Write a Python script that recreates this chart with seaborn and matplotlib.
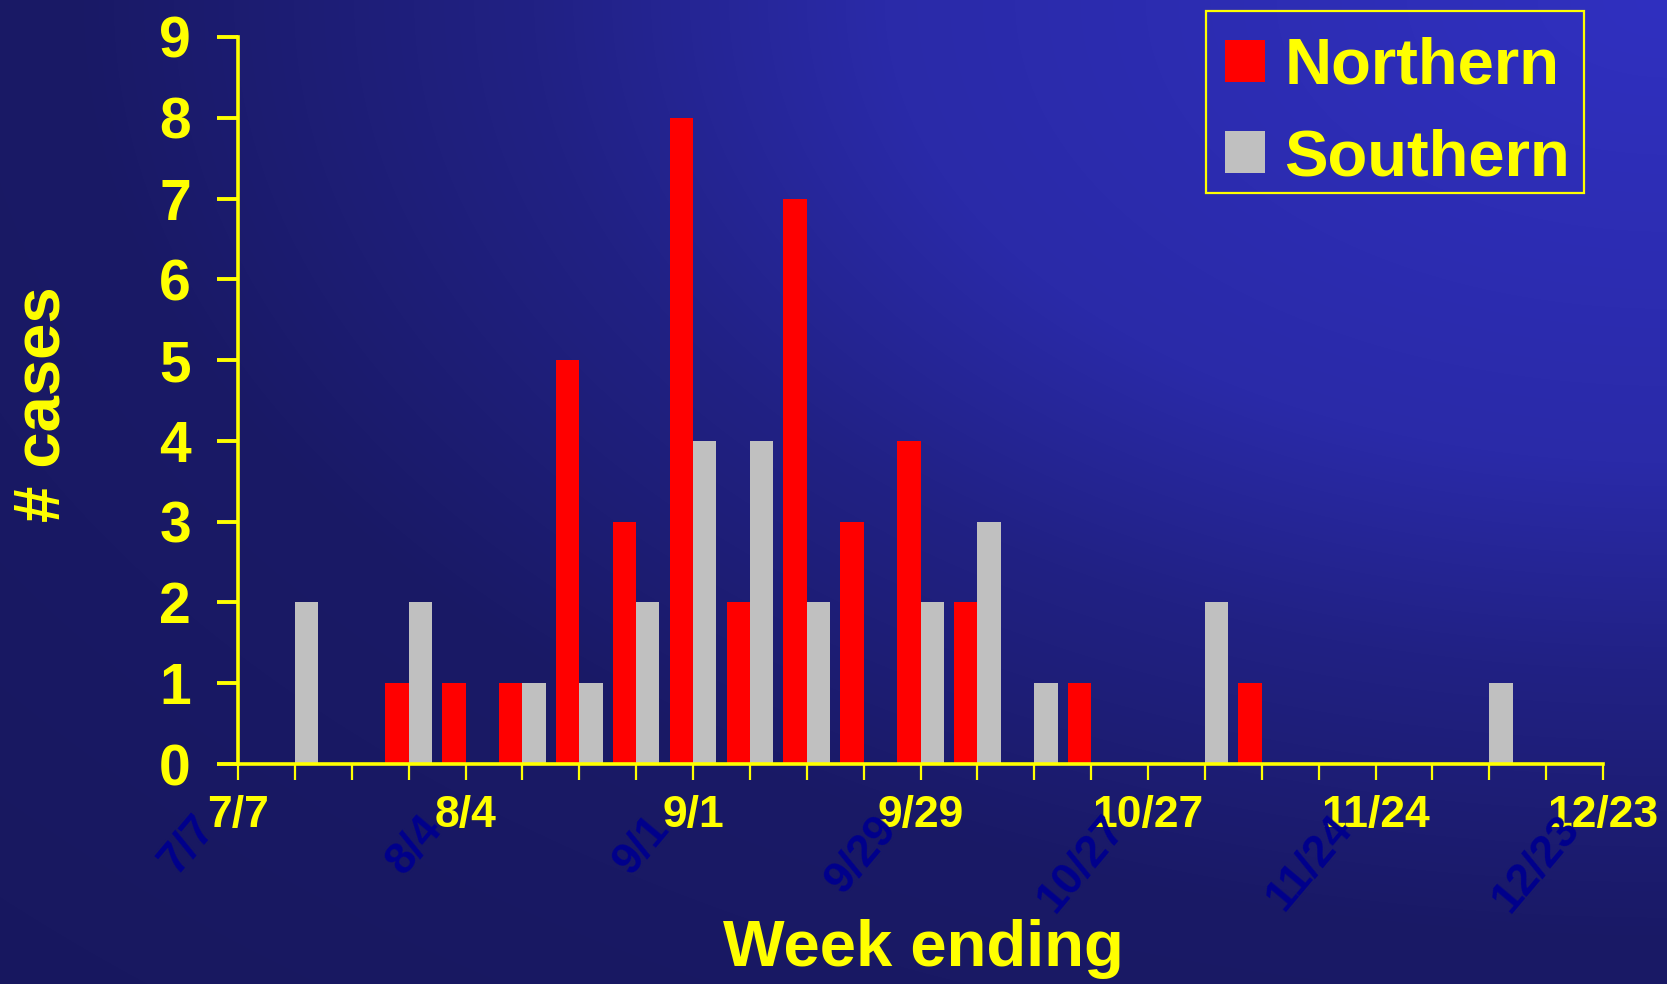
import numpy as np
import pandas as pd
import matplotlib
matplotlib.use("Agg")
import matplotlib.pyplot as plt
import matplotlib.patches as mpatches
import seaborn as sns

# Weekly case counts, one entry per week ending (7/7 ... 12/23)
week_index = list(range(25))
northern = [0, 0, 0, 1, 1, 1, 5, 3, 8, 2, 7, 3, 4, 2, 0, 1, 0, 0, 1, 0, 0, 0, 0, 0, 0]
southern = [0, 2, 0, 2, 0, 1, 1, 2, 4, 4, 2, 0, 2, 3, 1, 0, 0, 2, 0, 0, 0, 0, 1, 0, 0]
week_labels = ["7/7", "8/4", "9/1", "9/29", "10/27", "11/24", "12/23"]
label_every = 4
regions = ["Northern", "Southern"]
y_ticks = list(range(10))

sns.set_style("ticks")
plt.rcParams["font.family"] = ["Liberation Sans", "DejaVu Sans"]
plt.rcParams["font.weight"] = "bold"

YELLOW = "#ffff00"
NAVY = "#00008c"

df = pd.DataFrame({
    "week": week_index * 2,
    "region": [regions[0]] * len(week_index) + [regions[1]] * len(week_index),
    "cases": northern + southern,
})

W, H = 1667, 984
fig = plt.figure(figsize=(W / 100, H / 100), dpi=100)

# Slide-style background: bright blue in the top-right fading to navy
bg = fig.add_axes([0, 0, 1, 1], zorder=-1)
yy, xx = np.mgrid[0:H, 0:W]
t = np.sqrt(((W - xx) / W) ** 2 + (yy / H) ** 2)
blue = np.interp(t, [0, 0.47, 0.68, 0.95, 1.42], [192, 168, 132, 102, 95]) / 255.0
grad = np.dstack([blue / 4, blue / 4, blue])
bg.imshow(grad, aspect="auto", extent=(0, 1, 0, 1), interpolation="bilinear")
bg.set_axis_off()

ax = fig.add_axes([238 / W, (H - 764) / H, 1365 / W, 727 / H])
ax.set_facecolor("none")

sns.barplot(
    data=df, x="week", y="cases", hue="region", ax=ax,
    palette={"Northern": "#ff0000", "Southern": "#c0c0c0"},
    width=0.82, dodge=True, saturation=1, linewidth=0,
)

ax.set_xlim(0, len(week_index) - 1)
ax.set_ylim(0, 9)

ax.set_xticks(week_index)
ax.set_xticklabels([
    week_labels[i // label_every] if i % label_every == 0 else ""
    for i in week_index
])
ax.set_yticks(y_ticks)
ax.set_yticklabels([str(v) for v in y_ticks])

for side in ["top", "right"]:
    ax.spines[side].set_visible(False)
for side in ["left", "bottom"]:
    ax.spines[side].set_color(YELLOW)
    ax.spines[side].set_linewidth(2.6)

ax.tick_params(axis="x", colors=YELLOW, length=11.5, width=1.6, pad=11,
               labelsize=32, direction="out")
ax.tick_params(axis="y", colors=YELLOW, length=15, width=2.8, pad=19,
               labelsize=41, direction="out")
for lab in ax.get_xticklabels() + ax.get_yticklabels():
    lab.set_fontweight("bold")
    lab.set_color(YELLOW)

# Faint rotated duplicates of the date labels
for i in week_index:
    if i % label_every == 0:
        ax.annotate(
            week_labels[i // label_every], xy=(i, 0),
            xycoords=("data", "axes fraction"),
            xytext=(-11, -32), textcoords="offset points",
            rotation=50, ha="right", va="top", fontsize=32,
            fontweight="bold", color=NAVY, zorder=1, annotation_clip=False,
        )

ax.set_xlabel("Week ending", fontsize=47, fontweight="bold", color=YELLOW)
ax.xaxis.set_label_coords(0.502, -0.2136)
ax.set_ylabel("# cases", fontsize=47, fontweight="bold", color=YELLOW)
ax.yaxis.set_label_coords(-0.1215, 0.495)

# Legend entries without a frame, boxed by a separate yellow outline
handles, labels = ax.get_legend_handles_labels()
leg = ax.legend(
    handles, labels, loc="upper left",
    bbox_to_anchor=(1225 / W, 1 - 36.7 / H), bbox_transform=fig.transFigure,
    prop={"size": 47, "weight": "bold"}, frameon=False,
    handlelength=0.61, handleheight=0.61, handletextpad=0.3,
    labelspacing=0.485, borderpad=0, borderaxespad=0,
)
for txt in leg.get_texts():
    txt.set_color(YELLOW)

frame = mpatches.Rectangle(
    (1206 / W, 1 - 193 / H), (1584 - 1206) / W, (193 - 11) / H,
    transform=fig.transFigure, fill=False, edgecolor=YELLOW, linewidth=1.6,
)
fig.add_artist(frame)

fig.savefig("out.png", dpi=100)
